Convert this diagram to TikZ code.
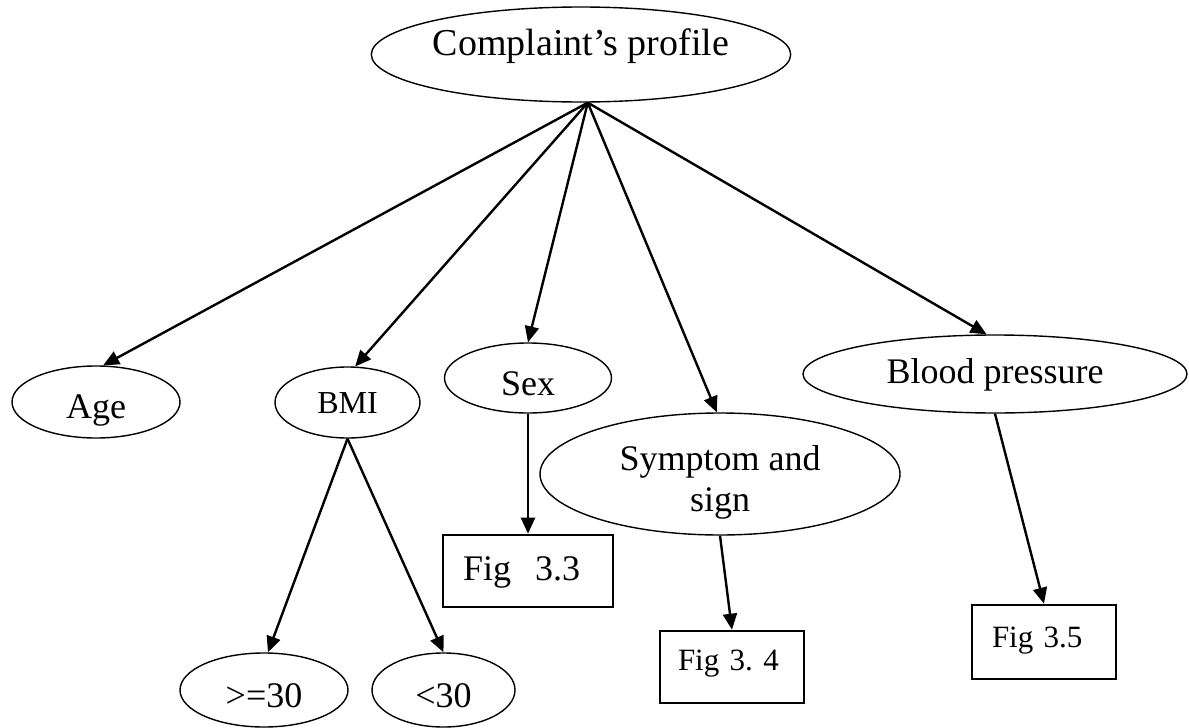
\documentclass[tikz,border=0pt]{standalone}
\usepackage{fontspec}
\setmainfont{Liberation Serif}
\usetikzlibrary{shapes.geometric,arrows.meta}

\begin{document}
\begin{tikzpicture}[x=0.5pt,y=-0.5pt,
    bub/.style={draw,ellipse,line width=0.7pt,inner sep=0pt},
    figbox/.style={draw,rectangle,line width=1.3pt,inner xsep=10pt,inner ysep=0pt,align=left},
    big/.style={font=\fontsize{18}{20.5}\selectfont},
    small/.style={font=\fontsize{15.5}{18}\selectfont}]
  \useasboundingbox (0,0) rectangle (1189,728);
  \draw
    (581,54.5) node[bub,font=\fontsize{19}{22}\selectfont,minimum width=209pt,minimum height=47.5pt,text height=7pt,text depth=6.5pt] (root) {Complaint’s profile}
    (96,402) node[bub,big,minimum width=84pt,minimum height=36pt,text height=16pt,text depth=0pt] (age) {Age}
    (347.5,402.5) node[bub,font=\fontsize{16}{19}\selectfont,minimum width=72.5pt,minimum height=35.5pt,text height=10.5pt,text depth=0pt] (bmi) {BMI}
    (528,378) node[bub,big,minimum width=83.5pt,minimum height=35pt,text height=17pt,text depth=0pt] (sex) {Sex}
    (720,474) node[bub,big,minimum width=180pt,minimum height=61pt,align=center,text height=37pt,text depth=0pt] (symp) {Symptom and\\sign}
    (995,374) node[bub,big,minimum width=192pt,minimum height=39pt,text height=9pt,text depth=0pt] (bp) {Blood pressure}
    (264,690) node[bub,big,minimum width=84pt,minimum height=37pt,text height=17pt,text depth=0pt] (ge30) {>=30}
    (443.5,690) node[bub,big,minimum width=71.5pt,minimum height=37pt,text height=17pt,text depth=0pt] (lt30) {<30}
    (528,571) node[figbox,big,text width=65pt,text height=22.5pt,text depth=13.5pt] (fig33) {Fig\ \ 3.3}
    (732,667) node[figbox,small,inner xsep=9pt,text width=54pt,text height=19.5pt,text depth=16.5pt] (fig34) {Fig 3.\ 4}
    (1044,642) node[figbox,small,inner xsep=10pt,text width=52pt,text height=21pt,text depth=16pt] (fig35) {Fig 3.5};
  \begin{scope}[-{Triangle[length=8pt,width=7pt]},line width=1.2pt]
    \draw (root.278) to (age.79);
    \draw (root.278) to (bmi.78);
    \draw (root.278) to (sex.north);
    \draw (root.278) to (symp.93);
    \draw (root.278) to (bp.102);
    \draw (bmi.south) to (ge30.84);
    \draw (bmi.south) to (lt30.north);
    \draw (sex.south) to (fig33.north);
    \draw (symp.south) to (fig34.north);
    \draw (bp.south) to (fig35.north);
  \end{scope}
\end{tikzpicture}
\end{document}
